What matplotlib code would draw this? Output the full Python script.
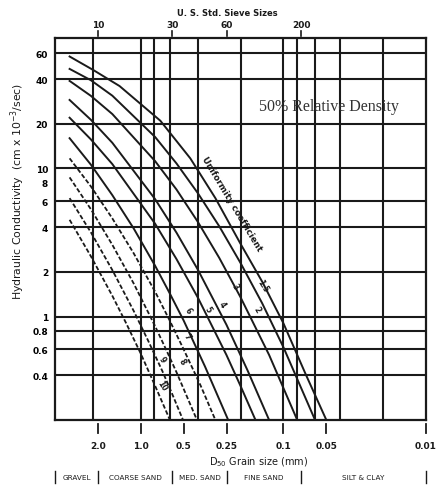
import numpy as np
import matplotlib
matplotlib.use('Agg')
import matplotlib.pyplot as plt

# uniformity coefficient curves: D50 (mm) vs K (cm x 1e-3 / sec)
cu_labels = ['1.5', '2', '3', '4', '5', '6', '7', '8', '9', '10']
curve_d = [
    [3.16, 2.14, 1.41, 0.73, 0.45, 0.30, 0.20, 0.14, 0.10, 0.07, 0.05],
    [3.16, 2.24, 1.585, 0.794, 0.562, 0.398, 0.282, 0.20, 0.141, 0.10, 0.06],
    [3.16, 2.24, 1.585, 0.794, 0.562, 0.398, 0.282, 0.20, 0.126, 0.08],
    [3.16, 2.24, 1.585, 0.794, 0.562, 0.398, 0.251, 0.178, 0.126],
    [3.16, 2.24, 1.585, 0.794, 0.562, 0.398, 0.251, 0.20, 0.157],
    [3.16, 2.24, 1.585, 1.122, 0.794, 0.631, 0.501, 0.355, 0.244],
    [3.16, 2.24, 1.585, 1.122, 0.794, 0.631, 0.501, 0.38, 0.30],
    [3.16, 2.24, 1.585, 1.122, 0.794, 0.661, 0.562, 0.404],
    [3.16, 2.24, 1.585, 1.122, 0.891, 0.708, 0.603, 0.506],
    [3.16, 2.24, 1.585, 1.26, 1.0, 0.794, 0.625],
]
curve_k = [
    [57, 46, 36, 21, 11.7, 6.3, 3.1, 1.7, 0.9, 0.41, 0.2],
    [47, 39.4, 31, 16.3, 10.8, 6.8, 4.07, 2.3, 1.23, 0.62, 0.2],
    [39, 30.9, 23.3, 11.2, 7.2, 4.35, 2.49, 1.35, 0.55, 0.2],
    [29, 21.3, 14.9, 6.2, 3.68, 2.07, 0.88, 0.43, 0.2],
    [22, 15.7, 10.7, 4.23, 2.44, 1.34, 0.55, 0.34, 0.2],
    [16, 10.6, 6.6, 3.93, 2.2, 1.45, 0.94, 0.46, 0.2],
    [11.7, 7.56, 4.6, 2.67, 1.47, 0.95, 0.60, 0.34, 0.2],
    [8.7, 5.3, 3.05, 1.67, 0.86, 0.59, 0.42, 0.2],
    [6.3, 3.7, 2.06, 1.09, 0.69, 0.43, 0.30, 0.2],
    [4.5, 2.55, 1.38, 0.89, 0.56, 0.34, 0.2],
]
dashed = [False] * 6 + [True] * 4
# where the coefficient numbers sit (d, K)
label_d = [0.1406, 0.1525, 0.218, 0.269, 0.337, 0.467, 0.474, 0.514, 0.711, 0.711]
label_k = [1.62, 1.13, 1.62, 1.21, 1.13, 1.11, 0.744, 0.504, 0.52, 0.342]

y_ticks = [60, 40, 20, 10, 8, 6, 4, 2, 1, 0.8, 0.6, 0.4]
y_grid = [60, 40, 20, 10, 6, 4, 2, 1, 0.8, 0.6, 0.4]
x_grid = [2.15, 1.0, 0.81, 0.62, 0.40, 0.20, 0.10, 0.08, 0.06, 0.04, 0.02]
x_ticks = [2.0, 1.0, 0.5, 0.25, 0.1, 0.05, 0.01]
x_ticklabels = ['2.0', '1.0', '0.5', '0.25', '0.1', '0.05', '0.01']
sieve_mm = [2.0, 0.6, 0.25, 0.075]
sieve_no = ['10', '30', '60', '200']
class_edges = [4.0, 2.0, 0.6, 0.25, 0.075, 0.01]
class_names = ['GRAVEL', 'COARSE SAND', 'MED. SAND', 'FINE SAND', 'SILT & CLAY']

ink = '#1a1a1a'
fig = plt.figure(figsize=(4.36, 4.89), dpi=100)
ax = fig.add_axes([55 / 436, 1 - 421 / 489, 371 / 436, 382 / 489])
ax.set_xscale('log')
ax.set_yscale('log')
ax.set_xlim(4.0, 0.01)
ax.set_ylim(0.2, 76)

for g in y_grid:
    ax.axhline(g, color=ink, lw=1.5, zorder=1)
for g in x_grid:
    ax.axvline(g, color=ink, lw=1.5, zorder=1)

for d, k, ds in zip(curve_d, curve_k, dashed):
    if ds:
        ax.plot(d, k, color=ink, lw=1.3, ls=(0, (2.5, 1.2)), zorder=2)
    else:
        ax.plot(d, k, color=ink, lw=1.4, zorder=2, solid_joinstyle='round')

for lab, xd, yk in zip(cu_labels, label_d, label_k):
    ax.text(xd, yk, lab, fontsize=5.5, fontweight='bold', rotation=-58,
            ha='center', va='center', color=ink, zorder=3)

ax.text(0.229, 5.8, 'Uniformity coefficient', fontsize=6.3, fontweight='bold', rotation=-59,
        ha='center', va='center', color=ink, zorder=3)
ax.text(0.048, 26.2, '50% Relative Density', fontsize=11.5,
        family='Liberation Serif', ha='center', va='center', color='#333333', zorder=3)

for s in ax.spines.values():
    s.set_linewidth(1.6)
    s.set_color(ink)

ax.set_yticks(y_ticks)
ax.set_yticklabels([f'{v:g}' for v in y_ticks], fontsize=6.5, fontweight='bold')
ax.yaxis.set_minor_locator(matplotlib.ticker.NullLocator())
ax.tick_params(axis='y', length=0, pad=5)
ax.set_xticks([])
ax.xaxis.set_minor_locator(matplotlib.ticker.NullLocator())

tr = ax.get_xaxis_transform()
# detached ticks under the frame
for v, lab in zip(x_ticks, x_ticklabels):
    ax.plot([v, v], [-0.011, -0.034], transform=tr, color=ink, lw=1.3, clip_on=False)
    ax.text(v, -0.068, lab, transform=tr, fontsize=6.5, fontweight='bold',
            ha='center', va='center', color=ink)
ax.text(0.15, -0.108, 'D$_{50}$ Grain size (mm)', transform=tr, fontsize=7,
        ha='center', va='center', color=ink)

# soil classes strip
for v in class_edges:
    ax.plot([v, v], [-0.133, -0.165], transform=tr, color=ink, lw=1.0, clip_on=False)
for a, b, name in zip(class_edges[:-1], class_edges[1:], class_names):
    ax.text(np.sqrt(a * b), -0.149, name, transform=tr, fontsize=5.2,
            ha='center', va='center', color=ink)

# sieve sizes along the top
for v, lab in zip(sieve_mm, sieve_no):
    ax.plot([v, v], [1.005, 1.018], transform=tr, color=ink, lw=1.2, clip_on=False)
    ax.text(v, 1.035, lab, transform=tr, fontsize=6.5, fontweight='bold',
            ha='center', va='center', color=ink)
ax.text(0.464, 1.068, 'U. S. Std. Sieve Sizes', transform=ax.transAxes, fontsize=6,
        fontweight='bold', ha='center', va='center', color=ink)

ax.text(-0.1, 0.6, 'Hydraulic Conductivity  (cm x 10$^{-3}$/sec)', transform=ax.transAxes,
        fontsize=7.8, rotation=90, ha='center', va='center', color=ink)

fig.savefig('out.png', dpi=100)
